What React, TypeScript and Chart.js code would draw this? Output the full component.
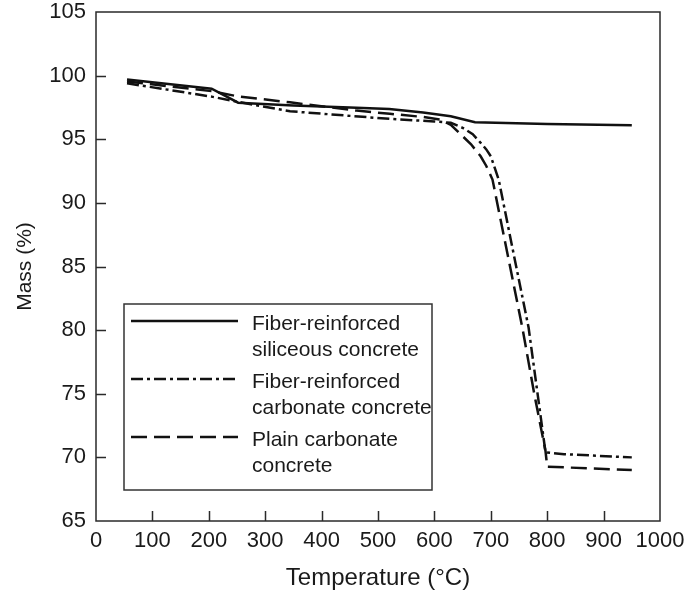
import React, { useEffect, useRef } from "react";
import { Chart, registerables } from "chart.js";

Chart.register(...registerables);

// ---- Data ----
const siliceousTemp = [55, 205, 225, 252, 350, 450, 520, 580, 629, 672, 800, 950];
const siliceousMass = [99.7, 98.97, 98.5, 97.87, 97.65, 97.5, 97.38, 97.1, 96.81, 96.34, 96.2, 96.1];

const fiberCarbTemp = [55, 207, 280, 344, 521, 600, 629, 650, 668, 682, 692, 700, 714, 740, 767, 797, 830, 950];
const fiberCarbMass = [99.4, 98.33, 97.7, 97.2, 96.6, 96.4, 96.29, 95.9, 95.4, 94.72, 94.2, 93.66, 91.83, 86.1, 80.2, 70.4, 70.25, 70.0];

const plainCarbTemp = [55, 205, 250, 344, 462, 521, 580, 610, 630, 647, 665, 682, 692, 703, 730, 756, 777, 797, 800, 950];
const plainCarbMass = [99.54, 98.78, 98.38, 97.9, 97.25, 97.0, 96.75, 96.55, 96.1, 95.37, 94.6, 93.66, 92.9, 91.83, 85.9, 80.18, 75.0, 70.5, 69.27, 69.0];

const seriesLabels = [
  ["Fiber-reinforced", "siliceous concrete"],
  ["Fiber-reinforced", "carbonate concrete"],
  ["Plain carbonate", "concrete"],
];
const seriesDashes = [[], [12, 4, 3, 4], [16, 7]];

const xTitle = "Temperature (°C)";
const yTitle = "Mass (%)";
const xMin = 0, xMax = 1000, xStep = 100;
const yMin = 65, yMax = 105, yStep = 5;

const FONT = "'Liberation Sans', Arial, Helvetica, sans-serif";
const INK = "#111";

function toPoints(xs: number[], ys: number[]) {
  return xs.map((x, i) => ({ x, y: ys[i] }));
}

const framePlugin = {
  id: "frameAndTicks",
  afterDatasetsDraw(chart: any) {
    const { ctx, chartArea, scales } = chart;
    ctx.save();
    ctx.strokeStyle = "#2a2a2a";
    ctx.lineWidth = 1.5;
    ctx.strokeRect(chartArea.left, chartArea.top, chartArea.right - chartArea.left, chartArea.bottom - chartArea.top);
    const tl = 10;
    ctx.beginPath();
    for (const t of scales.x.ticks) {
      if (t.value <= xMin || t.value >= xMax) continue;
      const px = Math.round(scales.x.getPixelForValue(t.value)) + 0.5;
      ctx.moveTo(px, chartArea.bottom);
      ctx.lineTo(px, chartArea.bottom - tl);
    }
    for (const t of scales.y.ticks) {
      if (t.value <= yMin || t.value >= yMax) continue;
      const py = Math.round(scales.y.getPixelForValue(t.value)) + 0.5;
      ctx.moveTo(chartArea.left, py);
      ctx.lineTo(chartArea.left + tl, py);
    }
    ctx.stroke();
    ctx.restore();
  },
};

const legendPlugin = {
  id: "boxLegend",
  afterDraw(chart: any) {
    const { ctx, chartArea } = chart;
    const left = chartArea.left + 28;
    const top = chartArea.top + 292;
    const width = 308;
    const height = 186;
    ctx.save();
    ctx.fillStyle = "#fff";
    ctx.fillRect(left, top, width, height);
    ctx.strokeStyle = "#333";
    ctx.lineWidth = 1.5;
    ctx.strokeRect(left, top, width, height);
    ctx.font = `21px ${FONT}`;
    ctx.fillStyle = "#1a1a1a";
    ctx.textBaseline = "middle";
    ctx.textAlign = "left";
    const entryGap = 58;
    const lineGap = 26.7;
    chart.data.datasets.forEach((ds: any, i: number) => {
      const cy = top + 20 + i * entryGap;
      ctx.strokeStyle = INK;
      ctx.lineWidth = 2.5;
      ctx.setLineDash(seriesDashes[i]);
      ctx.beginPath();
      ctx.moveTo(left + 7, cy - 3);
      ctx.lineTo(left + 114, cy - 3);
      ctx.stroke();
      ctx.setLineDash([]);
      seriesLabels[i].forEach((line, j) => {
        ctx.fillText(line, left + 128, cy + j * lineGap);
      });
    });
    ctx.restore();
  },
};

export default function App() {
  const canvasRef = useRef<HTMLCanvasElement | null>(null);

  useEffect(() => {
    document.body.style.margin = "0";
    const canvas = canvasRef.current;
    if (!canvas) return;
    const chart = new Chart(canvas, {
      type: "scatter",
      data: {
        datasets: [
          { label: seriesLabels[0].join(" "), data: toPoints(siliceousTemp, siliceousMass), borderDash: seriesDashes[0] },
          { label: seriesLabels[1].join(" "), data: toPoints(fiberCarbTemp, fiberCarbMass), borderDash: seriesDashes[1] },
          { label: seriesLabels[2].join(" "), data: toPoints(plainCarbTemp, plainCarbMass), borderDash: seriesDashes[2] },
        ].map((d) => ({
          ...d,
          showLine: true,
          pointRadius: 0,
          borderColor: INK,
          backgroundColor: INK,
          borderWidth: 2.5,
          tension: 0,
          fill: false,
        })),
      },
      options: {
        animation: false,
        responsive: false,
        maintainAspectRatio: false,
        devicePixelRatio: 1,
        layout: { padding: { top: 12, right: 35, left: 0, bottom: 0 } },
        plugins: { legend: { display: false }, tooltip: { enabled: false } },
        scales: {
          x: {
            type: "linear",
            min: xMin,
            max: xMax,
            afterFit: (s: any) => { s.height = 76; s.paddingLeft = 0; s.paddingRight = 0; },
            ticks: {
              stepSize: xStep,
              color: "#1a1a1a",
              font: { family: FONT, size: 22 },
              padding: 7,
              maxRotation: 0,
              callback: (v: any) => String(v),
            },
            grid: { display: false, drawTicks: false },
            border: { display: false },
            title: { display: true, text: xTitle, color: "#1a1a1a", font: { family: FONT, size: 24 }, padding: { top: 0, bottom: 4 } },
          },
          y: {
            type: "linear",
            min: yMin,
            max: yMax,
            afterFit: (s: any) => { s.width = 96; s.paddingTop = 0; s.paddingBottom = 0; },
            ticks: { stepSize: yStep, color: "#1a1a1a", font: { family: FONT, size: 22 }, padding: 10, callback: (v: any) => String(v) },
            grid: { display: false, drawTicks: false },
            border: { display: false },
            title: { display: true, text: yTitle, color: "#1a1a1a", font: { family: FONT, size: 21 }, padding: { top: 13, bottom: 0 } },
          },
        },
      },
      plugins: [framePlugin, legendPlugin],
    });
    return () => chart.destroy();
  }, []);

  return (
    <div style={{ width: 695, height: 597, background: "#fff" }}>
      <canvas ref={canvasRef} width={695} height={597} style={{ display: "block", width: 695, height: 597 }} />
    </div>
  );
}
